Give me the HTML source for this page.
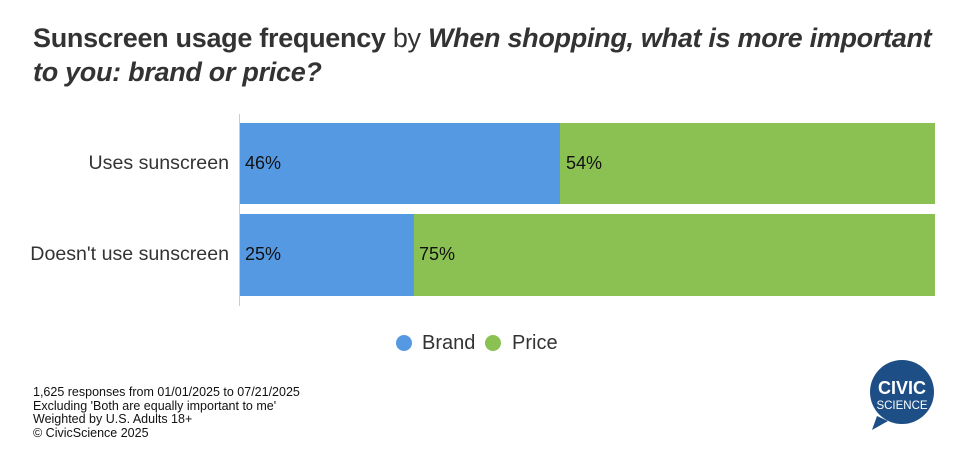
<!DOCTYPE html>
<html><head><style>
body{margin:0;width:966px;height:470px;background:#fff;font-family:"Liberation Sans",sans-serif;position:relative;overflow:hidden}
.t{position:absolute;left:33px;top:21px;font-size:27px;line-height:34px;color:#333;font-weight:bold;letter-spacing:-0.3px;white-space:nowrap}
.t span{font-weight:normal}
.a{position:absolute}
.lbl{position:absolute;right:737px;font-size:19.6px;color:#333;white-space:nowrap}
.v{position:absolute;font-size:18px;color:#111}
.f{position:absolute;left:33px;top:386px;font-size:12.5px;line-height:13.5px;color:#111;white-space:nowrap}
</style></head><body>
<div class="t">Sunscreen usage frequency <span>by</span> <i>When shopping, what is more important<br>to you: brand or price?</i></div>
<div class="a" style="left:239px;top:114px;width:1px;height:192px;background:#ccc"></div>
<div class="a" style="left:240px;top:123px;width:320px;height:81px;background:#5599e3"></div>
<div class="a" style="left:560px;top:123px;width:375px;height:81px;background:#8bc152"></div>
<div class="a" style="left:240px;top:214px;width:174px;height:82px;background:#5599e3"></div>
<div class="a" style="left:414px;top:214px;width:521px;height:82px;background:#8bc152"></div>
<div class="lbl" style="top:152px">Uses sunscreen</div>
<div class="lbl" style="top:243px">Doesn't use sunscreen</div>
<div class="v" style="left:245px;top:153px">46%</div>
<div class="v" style="left:566px;top:153px">54%</div>
<div class="v" style="left:245px;top:244px">25%</div>
<div class="v" style="left:419px;top:244px">75%</div>
<div class="a" style="left:396px;top:335px;width:16px;height:16px;border-radius:50%;background:#5599e3"></div>
<div class="a" style="left:422px;top:332px;font-size:20px;color:#333">Brand</div>
<div class="a" style="left:485px;top:335px;width:16px;height:16px;border-radius:50%;background:#8bc152"></div>
<div class="a" style="left:512px;top:332px;font-size:20px;color:#333">Price</div>
<div class="f">1,625 responses from 01/01/2025 to 07/21/2025<br>Excluding 'Both are equally important to me'<br>Weighted by U.S. Adults 18+<br>© CivicScience 2025</div>
<svg class="a" style="left:860px;top:356px" width="100" height="100">
<path d="M17 60 L12 74 L28 65 Z" fill="#1d4e85"/>
<circle cx="42" cy="36" r="32" fill="#1d4e85"/>
<text x="42" y="38" text-anchor="middle" fill="#fff" font-size="18" font-weight="bold" font-family="Liberation Sans">CIVIC</text>
<text x="42" y="53" text-anchor="middle" fill="#fff" font-size="11.5" font-family="Liberation Sans">SCIENCE</text>
</svg>
</body></html>
